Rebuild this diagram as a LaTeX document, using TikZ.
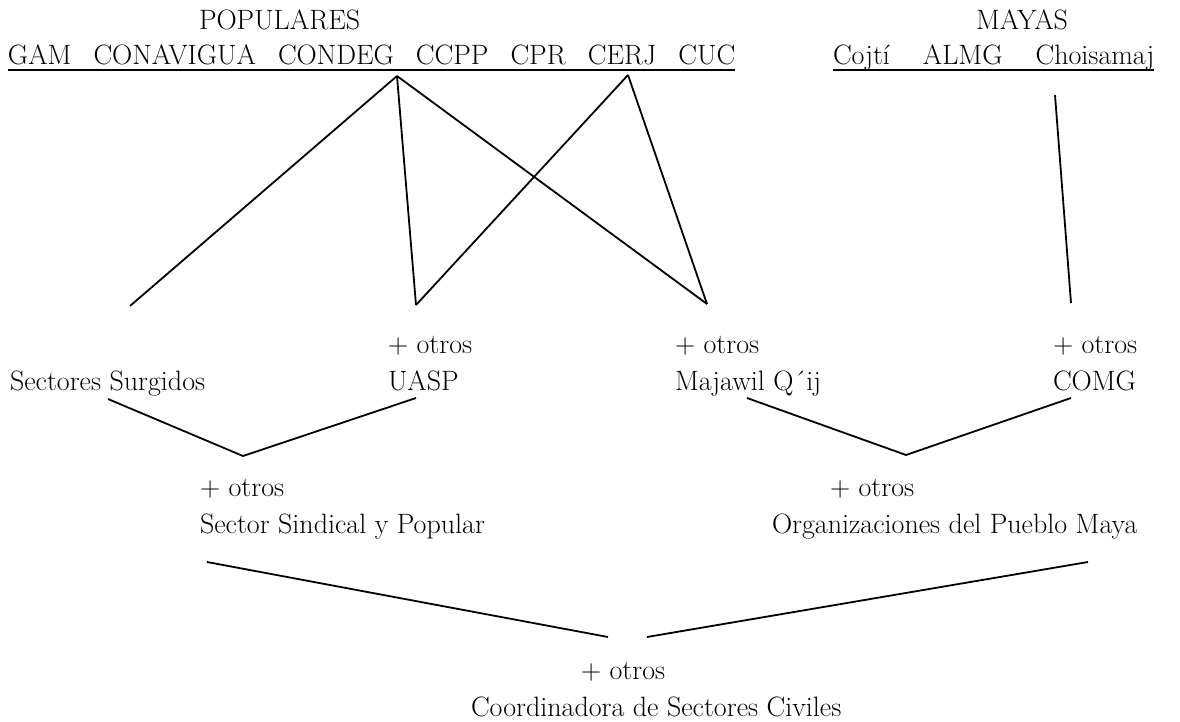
\documentclass[tikz,border=0pt]{standalone}
\begin{document}
\begin{tikzpicture}[x=1pt,y=-1pt,
  every node/.style={inner sep=0pt, outer sep=0pt, font=\fontsize{28}{34}\selectfont},
  lab/.style={anchor=base west},
  conn/.style={line width=1.8pt},
  uline/.style={line width=2.4pt}]
\useasboundingbox (0,0) rectangle (1180,722);
% top groups
\node[lab] (pop) at (199,30) {POPULARES};
\node[lab] (popl) at (8,65) {GAM\hspace{22pt}CONAVIGUA\hspace{22pt}CONDEG\hspace{22pt}CCPP\hspace{22pt}CPR\hspace{22pt}CERJ\hspace{22pt}CUC};
\draw[uline] ([yshift=-5pt]popl.base west) -- ([yshift=-5pt]popl.base east);
\node[lab] (may) at (976,30) {MAYAS};
\node[lab] (mayl) at (833,65) {Cojtí\hspace{33pt}ALMG\hspace{33pt}Choisamaj};
\draw[uline] ([yshift=-5pt]mayl.base west) -- ([yshift=-5pt]mayl.base east);
% middle row
\node[lab] (ss) at (10,390) {Sectores Surgidos};
\node[lab] (uaspo) at (388,353) {+ otros};
\node[lab] (uasp) at (388,390) {UASP};
\node[lab] (majo) at (675,353) {+ otros};
\node[lab] (maj) at (675,390) {Majawil Q´ij};
\node[lab] (comgo) at (1053,353) {+ otros};
\node[lab] (comg) at (1053,390) {COMG};
% lower row
\node[lab] (ssyo) at (200,496) {+ otros};
\node[lab] (ssyp) at (200,533) {Sector Sindical y Popular};
\node[lab] (opmo) at (830,496) {+ otros};
\node[lab] (opm) at (772,533) {Organizaciones del Pueblo Maya};
\node[lab] (csco) at (581,679) {+ otros};
\node[lab] (csc) at (471,716) {Coordinadora de Sectores Civiles};
% connector points
\coordinate (a1) at (397,76);
\coordinate (a2) at (628,75);
\coordinate (m1) at (1055,95);
\coordinate (e1) at (130,306);
\coordinate (e2) at (416,305);
\coordinate (e3) at (707,304);
\coordinate (e4) at (1071,303);
\coordinate (v1a) at (108,399);
\coordinate (v1b) at (243,456);
\coordinate (v1c) at (416,398);
\coordinate (v2a) at (747,398);
\coordinate (v2b) at (906,455);
\coordinate (v2c) at (1071,398);
\coordinate (w1a) at (207,562);
\coordinate (w1b) at (608,637);
\coordinate (w2a) at (647,637);
\coordinate (w2b) at (1088,562);
% connectors
\draw[conn] (a1) -- (e1);
\draw[conn] (a1) -- (e2);
\draw[conn] (a1) -- (e3);
\draw[conn] (a2) -- (e2);
\draw[conn] (a2) -- (e3);
\draw[conn] (m1) -- (e4);
\draw[conn] (v1a) -- (v1b) -- (v1c);
\draw[conn] (v2a) -- (v2b) -- (v2c);
\draw[conn] (w1a) -- (w1b);
\draw[conn] (w2a) -- (w2b);
\end{tikzpicture}
\end{document}
